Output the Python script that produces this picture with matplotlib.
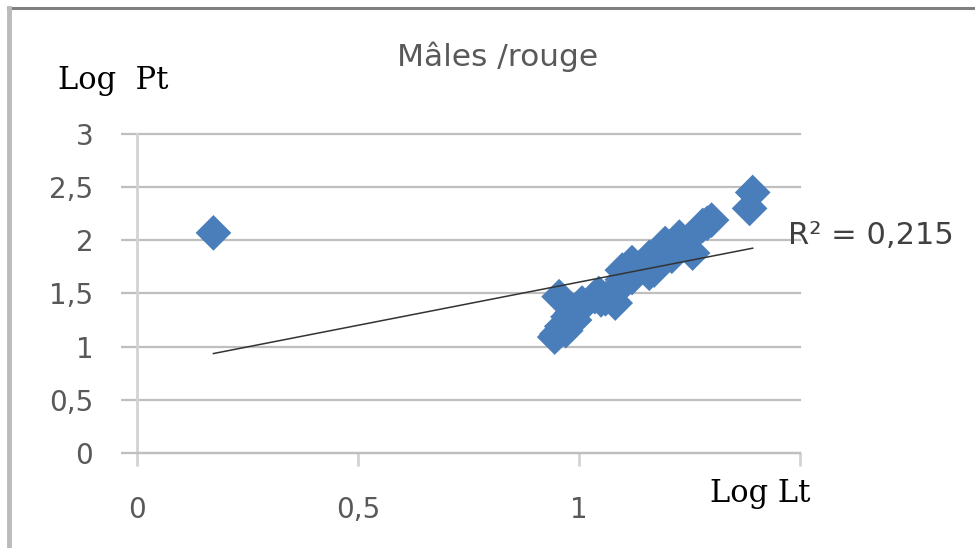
import numpy as np
import matplotlib.pyplot as plt
from matplotlib.lines import Line2D

# values (log length vs log weight, red males)
log_lt = [0.173, 0.945, 0.961, 0.970, 0.984, 0.990, 0.955, 1.007, 1.036, 1.045,
          1.060, 1.082, 1.098, 1.098, 1.120, 1.120, 1.140, 1.159, 1.159, 1.170,
          1.195, 1.200, 1.210, 1.227, 1.240, 1.257, 1.280, 1.300, 1.386, 1.393,
          0.950, 0.975, 1.000, 1.050, 1.090, 1.110, 1.150, 1.190, 1.220, 1.290]
log_pt = [2.07, 1.09, 1.19, 1.15, 1.32, 1.25, 1.47, 1.41, 1.47, 1.50,
          1.45, 1.41, 1.63, 1.72, 1.79, 1.65, 1.75, 1.69, 1.84, 1.72,
          1.97, 1.90, 1.85, 2.03, 1.98, 1.88, 2.14, 2.19, 2.30, 2.45,
          1.12, 1.28, 1.35, 1.44, 1.55, 1.70, 1.78, 1.92, 1.95, 2.16]
r2_text = "R² = 0,215"
x_ticks = [0, 0.5, 1, 1.5]
x_ticklabels = ["0", "0,5", "1", ""]
y_ticks = [0, 0.5, 1, 1.5, 2, 2.5, 3]
y_ticklabels = ["0", "0,5", "1", "1,5", "2", "2,5", "3"]

fig = plt.figure(figsize=(9.75, 5.48), dpi=100)
ax = fig.add_axes([0.1405, 0.1734, 0.68, 0.5821])

grid_col = "#BFBFBF"
text_col = "#595959"

ax.scatter(log_lt, log_pt, marker="D", s=330, color="#4A7EBB",
           edgecolors="none", zorder=3)

# linear trendline over the data range
slope, intercept = np.polyfit(log_lt, log_pt, 1)
xs = np.array([min(log_lt), max(log_lt)])
ax.plot(xs, slope * xs + intercept, color="#333333", lw=1.1, zorder=4)

ax.set_xlim(0, 1.5)
ax.set_ylim(0, 3)
ax.set_xticks(x_ticks)
ax.set_xticklabels(x_ticklabels)
ax.set_yticks(y_ticks)
ax.set_yticklabels(y_ticklabels)

ax.yaxis.grid(True, color=grid_col, lw=1.6, clip_on=False)
ax.set_axisbelow(True)
for s in ["top", "right"]:
    ax.spines[s].set_visible(False)
ax.spines["left"].set_color("#D3D3D3")
ax.spines["left"].set_linewidth(2)
ax.spines["bottom"].set_color(grid_col)
ax.spines["bottom"].set_linewidth(1.6)

ax.tick_params(axis="y", length=11.5, width=1.6, color=grid_col, pad=20,
               labelsize=20, labelcolor=text_col)
ax.tick_params(axis="x", length=9, width=2, color="#D3D3D3", pad=22,
               labelsize=20, labelcolor=text_col)

fig.text(0.51, 0.896, "Mâles /rouge", ha="center", va="center",
         fontsize=22.5, color=text_col, family="DejaVu Sans")
fig.text(0.06, 0.854, "Log  Pt", ha="left", va="center",
         fontsize=22, color="black", family="DejaVu Serif")
fig.text(0.728, 0.10, "Log Lt", ha="left", va="center",
         fontsize=22, color="black", family="DejaVu Serif")
fig.text(0.808, 0.571, r2_text, ha="left", va="center",
         fontsize=22, color="#404040", family="DejaVu Sans")

# chart frame (top and left edges only are visible)
fig.add_artist(Line2D([0.008, 1.0], [0.9845, 0.9845], transform=fig.transFigure,
                      color="#808080", lw=2.2))
fig.add_artist(Line2D([0.0097, 0.0097], [0.0, 0.9845], transform=fig.transFigure,
                      color="#BBBBBB", lw=3.5))

fig.savefig("out.png", dpi=100, facecolor="white")
